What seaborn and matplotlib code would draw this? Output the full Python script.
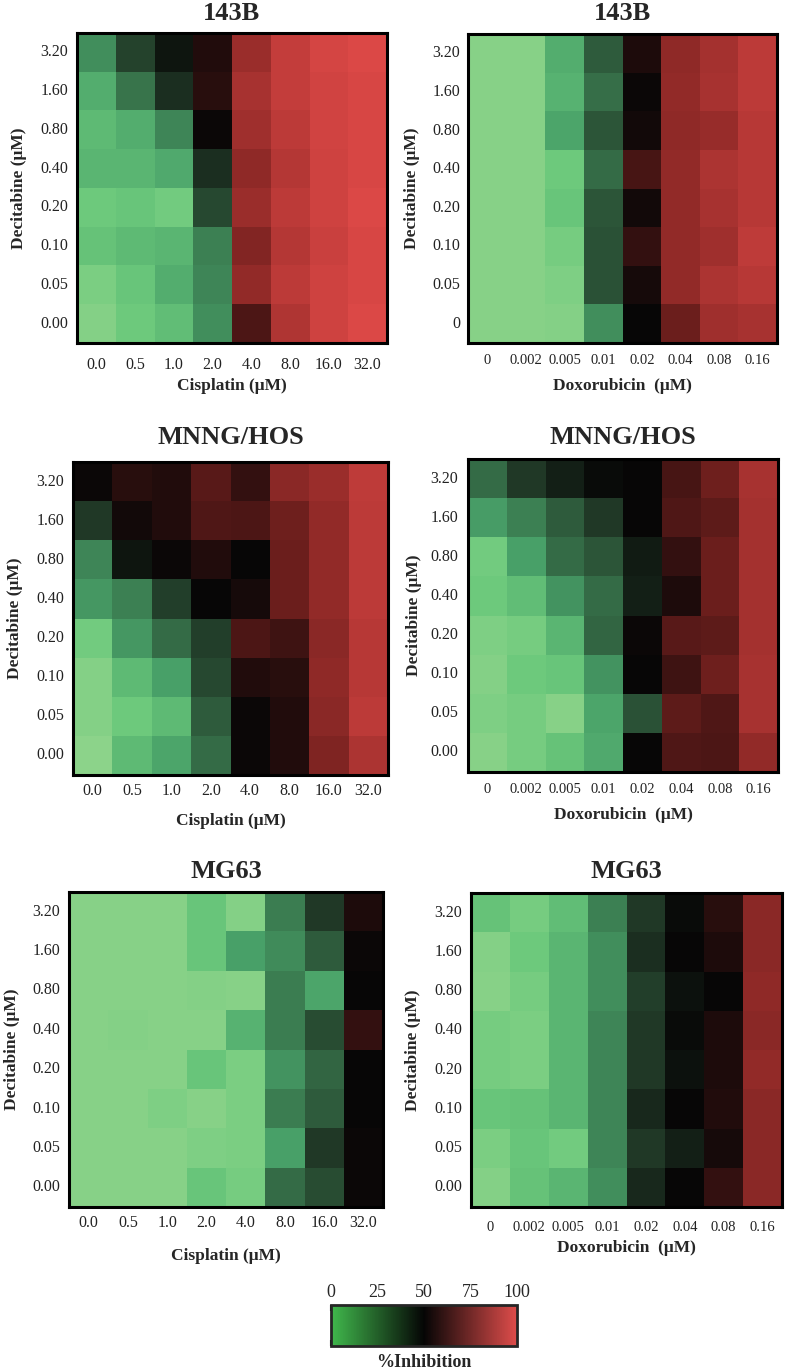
import seaborn as sns
import matplotlib.pyplot as plt
import matplotlib.cm as cm
import pandas as pd
import numpy as np
from matplotlib.colors import LinearSegmentedColormap, Normalize

# ── DATA ─────────────────────────────────────────────────────
decitabine = ['3.20', '1.60', '0.80', '0.40', '0.20', '0.10', '0.05', '0.00']
decitabine_alt = ['3.20', '1.60', '0.80', '0.40', '0.20', '0.10', '0.05', '0']
cisplatin = ['0.0', '0.5', '1.0', '2.0', '4.0', '8.0', '16.0', '32.0']
doxorubicin = ['0', '0.002', '0.005', '0.01', '0.02', '0.04', '0.08', '0.16']

# % inhibition, rows = decitabine (top 3.20 -> bottom 0), cols = second drug
inh_143b_cis = [
    [22, 38, 47, 55, 82, 92, 97, 99],
    [15, 28, 42, 56, 85, 92, 96, 98],
    [12, 15, 24, 51, 83, 90, 96, 98],
    [13, 13, 16, 42, 79, 88, 95, 98],
    [8, 9, 7, 37, 82, 90, 95, 99],
    [10, 12, 13, 25, 76, 88, 94, 98],
    [5, 9, 15, 24, 80, 90, 95, 98],
    [3, 8, 11, 22, 63, 87, 95, 99],
]
inh_143b_dox = [
    [2, 2, 15, 33, 54, 79, 84, 90],
    [2, 2, 14, 29, 51, 80, 85, 90],
    [2, 2, 17, 34, 52, 79, 81, 89],
    [2, 2, 8, 30, 62, 80, 86, 89],
    [2, 2, 9, 34, 52, 80, 85, 89],
    [2, 2, 6, 35, 58, 80, 83, 91],
    [2, 2, 4, 35, 53, 80, 86, 89],
    [2, 2, 3, 22, 50, 70, 83, 85],
]
inh_hos_cis = [
    [51, 56, 55, 66, 58, 78, 82, 91],
    [40, 52, 55, 64, 63, 71, 80, 90],
    [24, 47, 51, 55, 50, 70, 80, 90],
    [20, 25, 39, 50, 53, 70, 80, 90],
    [7, 20, 30, 39, 63, 60, 78, 89],
    [3, 12, 18, 37, 55, 56, 79, 89],
    [3, 8, 12, 33, 51, 55, 78, 90],
    [1, 12, 17, 30, 51, 55, 75, 86],
]
inh_hos_dox = [
    [30, 40, 45, 49, 50, 62, 71, 85],
    [19, 25, 33, 40, 50, 64, 67, 84],
    [7, 18, 30, 34, 46, 58, 70, 84],
    [8, 11, 21, 30, 45, 54, 70, 84],
    [4, 6, 13, 31, 51, 66, 67, 84],
    [3, 8, 9, 21, 50, 60, 71, 85],
    [4, 6, 2, 17, 35, 67, 64, 85],
    [2, 6, 10, 16, 50, 64, 63, 80],
]
inh_mg63_cis = [
    [2, 2, 2, 9, 3, 26, 40, 54],
    [2, 2, 2, 9, 18, 23, 33, 51],
    [2, 2, 2, 3, 2, 26, 17, 50],
    [2, 3, 2, 2, 14, 26, 36, 58],
    [2, 2, 2, 9, 5, 21, 31, 50],
    [2, 2, 4, 2, 5, 26, 33, 50],
    [2, 2, 2, 4, 5, 18, 40, 51],
    [2, 2, 2, 9, 6, 30, 36, 51],
]
inh_mg63_dox = [
    [10, 6, 11, 25, 40, 49, 56, 78],
    [3, 8, 13, 22, 42, 50, 54, 78],
    [2, 6, 13, 22, 39, 48, 50, 79],
    [6, 5, 13, 24, 40, 49, 54, 78],
    [6, 5, 13, 24, 40, 48, 54, 80],
    [9, 10, 13, 24, 43, 50, 55, 78],
    [5, 9, 7, 24, 40, 45, 53, 78],
    [3, 10, 13, 22, 43, 50, 58, 78],
]

panels = [
    ('143B', inh_143b_cis, decitabine, cisplatin, 'Cisplatin (μM)'),
    ('143B', inh_143b_dox, decitabine_alt, doxorubicin, 'Doxorubicin  (μM)'),
    ('MNNG/HOS', inh_hos_cis, decitabine, cisplatin, 'Cisplatin (μM)'),
    ('MNNG/HOS', inh_hos_dox, decitabine, doxorubicin, 'Doxorubicin  (μM)'),
    ('MG63', inh_mg63_cis, decitabine, cisplatin, 'Cisplatin (μM)'),
    ('MG63', inh_mg63_dox, decitabine, doxorubicin, 'Doxorubicin  (μM)'),
]

# ── LAYOUT (pixels, top-left origin) ─────────────────────────
W, H = 787, 1370
# left, right, top, bottom, title_y, ylabel_right, ytick_pad, xtick_pad, xlabel_top
boxes = [
    (77, 387, 33, 343, 13, 27, 9, 14, 378),
    (468, 777, 34, 343, 13, 420, 8, 11, 378),
    (73, 388, 462, 775, 437, 23, 9, 8, 813),
    (468, 778, 459, 772, 437, 422, 10, 11, 807),
    (69, 383, 892, 1207, 872, 20, 9, 8, 1248),
    (471, 782, 893, 1207, 872, 421, 9, 14, 1240),
]

cell_cmap = LinearSegmentedColormap.from_list('inhib', [
    (0.00, '#90d48b'), (0.08, '#6cc97c'), (0.18, '#48a068'), (0.30, '#346a45'),
    (0.40, '#203826'), (0.50, '#060606'), (0.60, '#3e1312'), (0.70, '#6a1e1c'),
    (0.80, '#922a28'), (0.90, '#bb3a38'), (1.00, '#de4947'),
])
bar_cmap = LinearSegmentedColormap.from_list('bar', ['#40b84c', '#050505', '#de4c4a'])

sns.set_theme(style='white')
plt.rcParams['font.family'] = ['Liberation Serif', 'DejaVu Serif']

fig = plt.figure(figsize=(W / 100, H / 100), dpi=100)

for (title, vals, rows, cols, xlab), (L, R, T, B, ty, yl, ypad, xpad, xl) in zip(panels, boxes):
    ax = fig.add_axes([L / W, 1 - B / H, (R - L) / W, (B - T) / H])
    df = pd.DataFrame(vals, index=rows, columns=cols)
    sns.heatmap(df, ax=ax, cmap=cell_cmap, vmin=0, vmax=100, cbar=False, linewidths=0)
    xsize = 10.5 if cols is doxorubicin else 11.5
    ax.tick_params(axis='both', length=0, colors='#222222')
    ax.tick_params(axis='x', pad=xpad * 0.72, labelrotation=0, labelsize=xsize)
    ax.tick_params(axis='y', pad=ypad * 0.72, labelrotation=0, labelsize=11.5)
    for sp in ax.spines.values():
        sp.set_visible(True)
        sp.set_linewidth(2.2)
        sp.set_color('black')
    ax.set_ylabel('Decitabine (μM)', fontsize=12.5, fontweight='bold')
    ax.yaxis.set_label_coords((yl - L) / (R - L), 0.5)
    ax.set_xlabel(xlab, fontsize=12.5, fontweight='bold')
    ax.xaxis.set_label_coords(0.5, -(xl - B) / (B - T))
    fig.text((L + R) / 2 / W, 1 - ty / H, title, ha='center', va='center',
             fontsize=19, fontweight='bold')

# ── COLOR BAR ────────────────────────────────────────────────
cL, cR, cT, cB = 331, 517, 1305, 1346
cax = fig.add_axes([cL / W, 1 - cB / H, (cR - cL) / W, (cB - cT) / H])
sm = cm.ScalarMappable(norm=Normalize(0, 100), cmap=bar_cmap)
cbar = fig.colorbar(sm, cax=cax, orientation='horizontal')
cbar.set_ticks([0, 25, 50, 75, 100])
cax.xaxis.set_ticks_position('both')
cax.tick_params(axis='x', direction='in', length=4, width=1.5, color='black',
                labeltop=True, labelbottom=False, labelsize=13, pad=3)
cbar.outline.set_linewidth(2)
fig.text((cL + cR) / 2 / W, 1 - 1354 / H, '%Inhibition', ha='center', va='top',
         fontsize=13, fontweight='bold')

plt.savefig('out.png', dpi=100)
